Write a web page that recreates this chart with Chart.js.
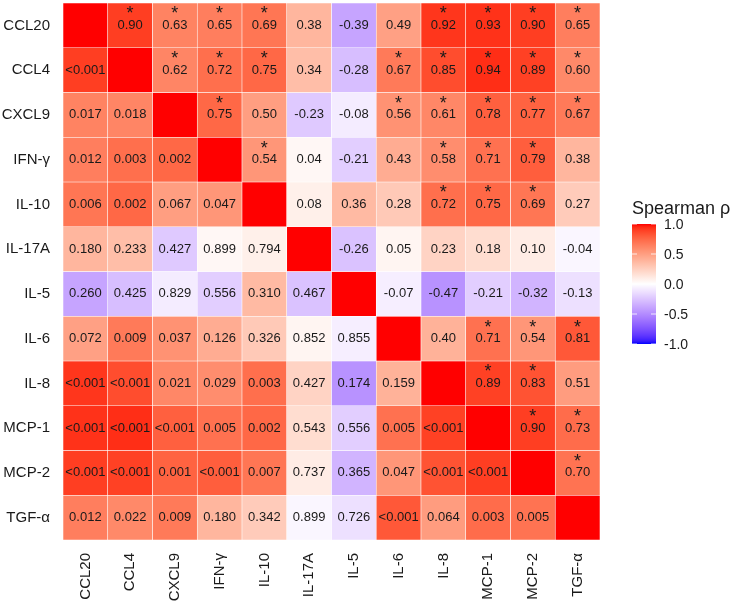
<!DOCTYPE html>
<html>
<head>
<meta charset="utf-8">
<script src="https://cdn.jsdelivr.net/npm/chart.js@4"></script>
<style>
  body { margin: 0; background: #fff; }
  canvas { display: block; }
</style>
</head>
<body>
<canvas id="heatmap" width="734" height="604"></canvas>
<script>
// Cytokines, same order on both axes
const labels = ['CCL20', 'CCL4', 'CXCL9', 'IFN-\u03b3', 'IL-10', 'IL-17A', 'IL-5', 'IL-6', 'IL-8', 'MCP-1', 'MCP-2', 'TGF-\u03b1'];

// Spearman rho, upper triangle (row i, columns i+1 .. end)
const rhoRows = [
    [0.90, 0.63, 0.65, 0.69, 0.38, -0.39, 0.49, 0.92, 0.93, 0.90, 0.65],
    [0.62, 0.72, 0.75, 0.34, -0.28, 0.67, 0.85, 0.94, 0.89, 0.60],
    [0.75, 0.50, -0.23, -0.08, 0.56, 0.61, 0.78, 0.77, 0.67],
    [0.54, 0.04, -0.21, 0.43, 0.58, 0.71, 0.79, 0.38],
    [0.08, 0.36, 0.28, 0.72, 0.75, 0.69, 0.27],
    [-0.26, 0.05, 0.23, 0.18, 0.10, -0.04],
    [-0.07, -0.47, -0.21, -0.32, -0.13],
    [0.40, 0.71, 0.54, 0.81],
    [0.89, 0.83, 0.51],
    [0.90, 0.73],
    [0.70],
    []
];

// p values, lower triangle (row i, columns 0 .. i-1); 0.0001 means "<0.001"
const pRows = [
    [],
    [0.0001],
    [0.017, 0.018],
    [0.012, 0.003, 0.002],
    [0.006, 0.002, 0.067, 0.047],
    [0.180, 0.233, 0.427, 0.899, 0.794],
    [0.260, 0.425, 0.829, 0.556, 0.310, 0.467],
    [0.072, 0.009, 0.037, 0.126, 0.326, 0.852, 0.855],
    [0.0001, 0.0001, 0.021, 0.029, 0.003, 0.427, 0.174, 0.159],
    [0.0001, 0.0001, 0.0001, 0.005, 0.002, 0.543, 0.556, 0.005, 0.0001],
    [0.0001, 0.0001, 0.001, 0.0001, 0.007, 0.737, 0.365, 0.047, 0.0001, 0.0001],
    [0.012, 0.022, 0.009, 0.180, 0.342, 0.899, 0.726, 0.0001, 0.064, 0.003, 0.005]
];

const legendTicks = [1.0, 0.5, 0.0, -0.5, -1.0];
const legendTitle = 'Spearman \u03c1';

const FONT = '"Liberation Sans", Arial, sans-serif';
const n = labels.length;

// full symmetric matrices
function rho(i, j) {
    if (i === j) return 1;
    if (i > j) return rho(j, i);
    return rhoRows[i][j - i - 1];
}
function pval(i, j) {
    if (i === j) return 0;
    if (i < j) return pval(j, i);
    return pRows[i][j];
}

/**
 * Lab colour helpers (gradient blue - white - red, like ggplot)
 */
function toLab(rgb) {
    const lin = rgb.map(c => {
        c /= 255;
        return c <= 0.04045 ? c / 12.92 : Math.pow((c + 0.055) / 1.055, 2.4);
    });
    const X = (0.4124564 * lin[0] + 0.3575761 * lin[1] + 0.1804375 * lin[2]) / 0.95047;
    const Y = 0.2126729 * lin[0] + 0.7151522 * lin[1] + 0.0721750 * lin[2];
    const Z = (0.0193339 * lin[0] + 0.1191920 * lin[1] + 0.9503041 * lin[2]) / 1.08883;
    const f = t => t > 0.008856 ? Math.cbrt(t) : 7.787 * t + 16 / 116;
    const fx = f(X), fy = f(Y), fz = f(Z);
    return [116 * fy - 16, 500 * (fx - fy), 200 * (fy - fz)];
}
function fromLab(lab) {
    const fy = (lab[0] + 16) / 116;
    const fx = fy + lab[1] / 500;
    const fz = fy - lab[2] / 200;
    const inv = t => t * t * t > 0.008856 ? t * t * t : (t - 16 / 116) / 7.787;
    const X = inv(fx) * 0.95047, Y = inv(fy), Z = inv(fz) * 1.08883;
    const lin = [
        3.2404542 * X - 1.5371385 * Y - 0.4985314 * Z,
        -0.9692660 * X + 1.8760108 * Y + 0.0415560 * Z,
        0.0556434 * X - 0.2040259 * Y + 1.0572252 * Z
    ];
    const out = lin.map(c => {
        c = c <= 0.0031308 ? 12.92 * c : 1.055 * Math.pow(c, 1 / 2.4) - 0.055;
        return Math.round(Math.max(0, Math.min(1, c)) * 255);
    });
    return `rgb(${out[0]}, ${out[1]}, ${out[2]})`;
}
const labRed = toLab([255, 0, 0]);
const labWhite = toLab([255, 255, 255]);
const labBlue = toLab([0, 0, 255]);

function fillColor(v) {
    const end = v >= 0 ? labRed : labBlue;
    const t = Math.min(1, Math.abs(v));
    return fromLab(labWhite.map((w, k) => w + (end[k] - w) * t));
}

// one floating bar dataset per row
const datasets = labels.map((rowName, i) => ({
    label: rowName,
    data: labels.map(() => [i - 0.5, i + 0.5]),
    backgroundColor: labels.map((_, j) => fillColor(rho(i, j))),
    borderColor: 'rgba(255, 255, 255, 0.7)',
    borderWidth: 0.6,
    borderSkipped: false,
    barPercentage: 1,
    categoryPercentage: 1
}));

// Numbers and asterisks inside the cells
const cellText = {
    id: 'cellText',
    afterDatasetsDraw(chart) {
        const { ctx, scales: { x, y } } = chart;
        ctx.save();
        ctx.fillStyle = '#1a1a1a';
        ctx.textAlign = 'center';
        ctx.textBaseline = 'middle';
        for (let i = 0; i < n; i++) {
            for (let j = 0; j < n; j++) {
                if (i === j) continue;
                const cx = x.getPixelForValue(j);
                const cy = y.getPixelForValue(i);
                ctx.font = `13px ${FONT}`;
                if (j > i) {
                    ctx.fillText(rho(i, j).toFixed(2), cx, cy);
                    if (pval(i, j) < 0.05) {
                        ctx.font = `18px ${FONT}`;
                        ctx.fillText('*', cx, cy - 11);
                    }
                } else {
                    const p = pval(i, j);
                    ctx.fillText(p < 0.001 ? '<0.001' : p.toFixed(3), cx, cy);
                }
            }
        }
        ctx.restore();
    }
};

// Colour bar on the right
const colorBar = {
    id: 'colorBar',
    afterDraw(chart) {
        const { ctx } = chart;
        const left = 632, width = 24, top = 224, bottom = 344;
        ctx.save();
        const grad = ctx.createLinearGradient(0, top, 0, bottom);
        for (let k = 0; k <= 40; k++) {
            grad.addColorStop(k / 40, fillColor(1 - 2 * k / 40));
        }
        ctx.fillStyle = grad;
        ctx.fillRect(left, top, width, bottom - top);

        ctx.fillStyle = '#1a1a1a';
        ctx.font = `18px ${FONT}`;
        ctx.textAlign = 'left';
        ctx.textBaseline = 'middle';
        ctx.fillText(legendTitle, 632, 209);

        ctx.font = `14px ${FONT}`;
        ctx.strokeStyle = 'rgba(255, 255, 255, 0.8)';
        ctx.lineWidth = 1;
        legendTicks.forEach(v => {
            const py = top + (1 - v) / 2 * (bottom - top);
            ctx.beginPath();
            ctx.moveTo(left, py);
            ctx.lineTo(left + 5, py);
            ctx.moveTo(left + width - 5, py);
            ctx.lineTo(left + width, py);
            ctx.stroke();
            ctx.fillText(v.toFixed(1), 664, py + 1);
        });
        ctx.restore();
    }
};

new Chart(document.getElementById('heatmap'), {
    type: 'bar',
    data: {
        labels: labels,
        datasets: datasets
    },
    options: {
        responsive: false,
        animation: false,
        layout: {
            padding: { top: 3, right: 134, left: 0, bottom: 0 }
        },
        plugins: {
            legend: { display: false },
            tooltip: { enabled: false }
        },
        scales: {
            x: {
                stacked: true,
                grid: { display: false, drawTicks: false },
                border: { display: false },
                ticks: {
                    color: '#1a1a1a',
                    font: { family: FONT, size: 15 },
                    minRotation: 90,
                    maxRotation: 90,
                    padding: 13,
                    autoSkip: false
                },
                afterFit(scale) {
                    scale.height = 64;
                    scale.paddingLeft = 0;
                    scale.paddingRight = 0;
                    scale.paddingTop = 0;
                    scale.paddingBottom = 0;
                }
            },
            y: {
                type: 'linear',
                stacked: false,
                reverse: true,
                min: -0.5,
                max: 11.5,
                grid: { display: false, drawTicks: false },
                border: { display: false },
                ticks: {
                    color: '#1a1a1a',
                    font: { family: FONT, size: 15 },
                    padding: 13,
                    callback: value => labels[value]
                },
                afterBuildTicks(scale) {
                    scale.ticks = labels.map((_, i) => ({ value: i }));
                },
                afterFit(scale) {
                    scale.width = 63;
                    scale.paddingTop = 0;
                    scale.paddingBottom = 0;
                    scale.paddingLeft = 0;
                    scale.paddingRight = 0;
                }
            }
        }
    },
    plugins: [cellText, colorBar]
});
</script>
</body>
</html>
